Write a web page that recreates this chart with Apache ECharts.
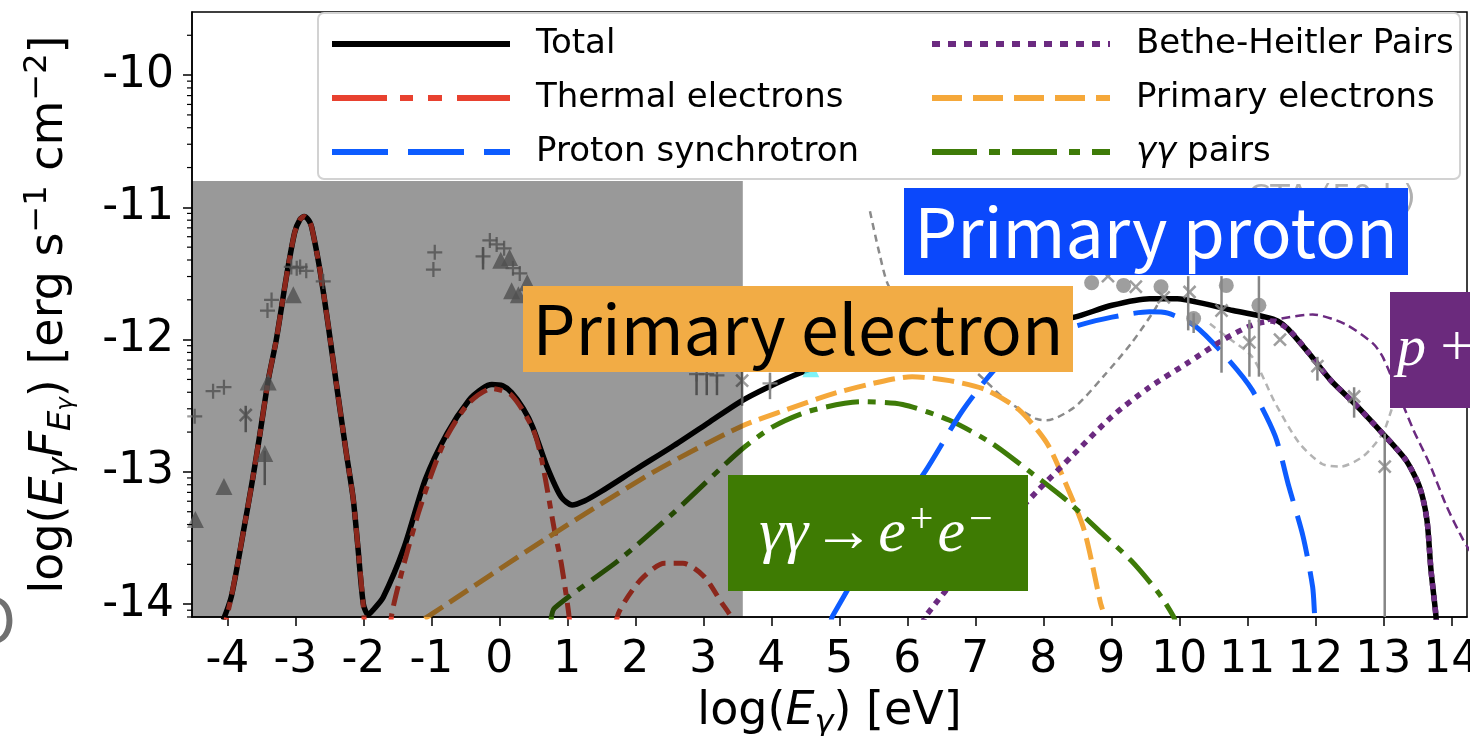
<!DOCTYPE html>
<html>
<head>
<meta charset="utf-8">
<script src="https://cdn.jsdelivr.net/npm/echarts@6/dist/echarts.min.js"></script>
<style>
  html, body { margin: 0; padding: 0; background: #fff; }
  #chart { width: 1470px; height: 736px; }
</style>
</head>
<body>
<div id="chart"></div>
<script>
// ---- axes ----
const xRange = [-4.52, 14.23];
const yRange = [-14.097, -9.523];
const xTicks = [-4, -3, -2, -1, 0, 1, 2, 3, 4, 5, 6, 7, 8, 9, 10, 11, 12, 13, 14];
const yTicks = [-14, -13, -12, -11, -10];
// log-style minor ticks between the decades of the y axis
const yMinorTicks = [];
for (let n = -15; n <= -10; n++) {
  for (let k = 2; k <= 9; k++) {
    const v = n + Math.log10(k);
    if (v >= yRange[0] && v <= yRange[1]) yMinorTicks.push(v);
  }
}

// ---- shaded band (low-energy region) ----
const shadedX = [-4.52, 3.58];
const shadedY = [-14.097, -10.80];

// ---- model components: [log E, log(E F_E)] ----
const totalCurve = [
  [-4.06, -14.12], [-3.94, -13.94], [-3.76, -13.44], [-3.63, -13.06], [-3.52, -12.71], [-3.40, -12.31],
  [-3.28, -12.00], [-3.13, -11.52], [-3.01, -11.19], [-2.93, -11.09], [-2.87, -11.07], [-2.80, -11.10],
  [-2.76, -11.15], [-2.64, -11.47], [-2.52, -11.88], [-2.39, -12.36], [-2.25, -12.86], [-2.15, -13.20],
  [-2.08, -13.57], [-2.00, -14.00], [-1.93, -14.08], [-1.85, -14.04], [-1.71, -13.95], [-1.40, -13.57],
  [-1.09, -13.06], [-0.77, -12.71], [-0.45, -12.46], [-0.25, -12.37], [-0.11, -12.34], [0.05, -12.35],
  [0.18, -12.40], [0.35, -12.52], [0.49, -12.66], [0.70, -12.96], [0.91, -13.19], [1.07, -13.25],
  [1.25, -13.22], [1.49, -13.15], [2.01, -12.98], [2.54, -12.81], [3.07, -12.63], [3.54, -12.47],
  [3.95, -12.36], [4.43, -12.25], [5.00, -12.15], [6.00, -12.03], [7.00, -11.95], [8.00, -11.87],
  [8.46, -11.83], [9.01, -11.74], [9.56, -11.69], [9.97, -11.69], [10.38, -11.73], [10.79, -11.78],
  [11.27, -11.83], [11.45, -11.86], [11.60, -11.92], [11.90, -12.10], [12.23, -12.31], [12.57, -12.48],
  [12.99, -12.71], [13.33, -12.91], [13.53, -13.11], [13.64, -13.36], [13.70, -13.74], [13.77, -14.07],
  [13.79, -14.20]
];
const thermalMain = [
  [-4.08, -14.25], [-3.94, -13.94], [-3.76, -13.44], [-3.63, -13.06], [-3.52, -12.71], [-3.40, -12.31],
  [-3.28, -12.00], [-3.13, -11.52], [-3.01, -11.19], [-2.93, -11.09], [-2.87, -11.07], [-2.80, -11.10],
  [-2.76, -11.15], [-2.64, -11.47], [-2.52, -11.88], [-2.39, -12.36], [-2.25, -12.86], [-2.15, -13.20],
  [-2.08, -13.57], [-2.00, -14.02], [-1.95, -14.40], [-1.80, -14.70], [-1.65, -14.40], [-1.58, -14.07],
  [-1.40, -13.69], [-1.19, -13.31], [-0.98, -12.99], [-0.77, -12.73], [-0.45, -12.48], [-0.11, -12.37],
  [0.18, -12.42], [0.49, -12.67], [0.62, -12.90], [0.81, -13.44], [0.91, -13.69], [1.02, -14.07], [1.06, -14.30]
];
const thermalHigh = [
  [1.68, -14.30], [1.75, -14.07], [2.07, -13.82], [2.43, -13.69], [2.70, -13.69], [3.01, -13.79],
  [3.27, -13.99], [3.41, -14.10], [3.48, -14.25]
];
const primaryElectrons = [
  [-1.10, -14.11], [-0.98, -14.07], [0.70, -13.50], [2.27, -13.00], [3.54, -12.66], [4.22, -12.53],
  [4.90, -12.41], [5.59, -12.32], [6.07, -12.28], [6.62, -12.31], [7.16, -12.38], [7.64, -12.53],
  [8.05, -12.78], [8.33, -13.09], [8.60, -13.44], [8.84, -13.99], [8.87, -14.04]
];
const ggPairs = [
  [0.76, -14.12], [0.81, -14.03], [1.75, -13.67], [2.54, -13.32], [3.54, -12.84], [4.02, -12.66],
  [4.56, -12.54], [5.32, -12.47], [5.93, -12.49], [6.62, -12.61], [7.23, -12.78], [7.78, -12.99],
  [8.33, -13.21], [8.81, -13.44], [9.29, -13.67], [9.70, -13.92], [9.91, -14.09], [9.95, -14.15]
];
const protonSync = [
  [4.87, -14.15], [4.90, -14.09], [5.59, -13.49], [6.27, -12.99], [6.82, -12.53], [7.37, -12.18],
  [7.90, -12.00], [8.46, -11.90], [9.01, -11.83], [9.56, -11.79], [9.83, -11.80], [10.24, -11.90],
  [10.72, -12.15], [11.07, -12.38], [11.41, -12.73], [11.61, -13.11], [11.82, -13.49], [11.96, -13.87],
  [11.99, -14.09], [12.00, -14.15]
];
const betheHeitler = [
  [6.22, -14.15], [6.27, -14.09], [6.82, -13.74], [7.37, -13.44], [7.92, -13.14], [8.46, -12.86],
  [9.01, -12.58], [9.56, -12.36], [10.11, -12.18], [10.65, -12.00], [11.07, -11.89], [11.35, -11.86],
  [11.60, -11.92], [11.90, -12.10], [12.23, -12.31], [12.57, -12.48], [12.99, -12.71], [13.33, -12.91],
  [13.53, -13.11], [13.64, -13.36], [13.70, -13.74], [13.77, -14.07], [13.79, -14.20]
];
const photoHadronic = [
  [11.30, -11.86], [11.61, -11.83], [11.96, -11.81], [12.43, -11.88], [12.85, -12.03], [13.00, -12.14],
  [13.44, -12.68], [13.68, -12.94], [13.93, -13.26], [14.17, -13.51], [14.30, -13.62]
];
const sensitivityA = [
  [5.45, -11.03], [5.59, -11.35], [5.73, -11.60], [6.20, -11.92], [6.60, -12.08], [7.02, -12.25],
  [7.46, -12.46], [7.90, -12.60], [8.05, -12.61], [8.46, -12.51], [8.88, -12.28], [9.29, -12.03],
  [9.63, -11.78], [9.77, -11.65]
];
const sensitivityB = [
  [10.45, -11.88], [10.70, -11.98], [11.07, -12.13], [11.41, -12.48], [11.76, -12.78], [12.10, -12.94],
  [12.37, -12.96], [12.71, -12.88], [12.99, -12.71], [13.12, -12.53], [13.30, -12.25]
];

// ---- observations ----
const obsPlus = [
  [-4.48, -12.58], [-4.21, -12.39], [-4.05, -12.36], [-3.41, -11.78], [-3.35, -11.70], [-3.06, -11.45],
  [-2.98, -11.46], [-2.93, -11.45], [-2.84, -11.48], [-2.59, -11.56], [-0.95, -11.34], [-0.97, -11.47],
  [-0.24, -11.37], [-0.14, -11.25], [-0.04, -11.28], [0.07, -11.31], [0.20, -11.46], [0.30, -11.50],
  [2.90, -12.26], [3.05, -12.26], [3.20, -12.27], [3.98, -12.33]
];
const obsTriangle = [
  [-4.47, -13.36], [-4.05, -13.11], [-3.45, -12.86], [-3.40, -12.32], [-3.03, -11.66], [0.02, -11.40],
  [0.15, -11.38], [0.18, -11.63], [0.28, -11.66], [0.41, -11.57]
];
const obsCross = [
  [-3.73, -12.57], [3.57, -12.31], [8.95, -11.52], [9.36, -11.60], [9.77, -11.68], [10.15, -11.64],
  [10.62, -11.78], [11.03, -12.02], [11.48, -12.00], [12.03, -12.20], [12.57, -12.43], [13.02, -12.96]
];
const obsCircle = [
  [8.71, -11.57], [9.18, -11.59], [9.73, -11.60], [10.21, -11.84], [10.69, -11.59], [11.17, -11.74]
];
const obsExtra = [[4.58, -12.22]];
// [log E, lower, upper]
const obsErrors = [
  [-3.73, -12.70, -12.50], [-3.45, -13.10, -12.84], [-0.24, -11.47, -11.30],
  [2.90, -12.42, -12.26], [3.05, -12.42, -12.26], [3.20, -12.42, -12.27], [3.57, -12.50, -12.20],
  [3.98, -12.45, -12.25], [10.13, -11.93, -11.52], [10.21, -11.95, -11.80], [10.62, -12.25, -11.52],
  [11.03, -12.28, -11.85], [11.17, -12.28, -11.52], [12.03, -12.31, -12.13], [12.57, -12.59, -12.36],
  [13.02, -14.12, -12.71]
];

// ---- legend entries ----
const legendLeft = ['Total', 'Thermal electrons', 'Proton synchrotron'];
const legendRight = ['Bethe-Heitler Pairs', 'Primary electrons', 'γγ pairs'];

const FONT = 'DejaVu Sans';
const MARK = '#868686';

function curve(name, data, color, width, dash, z) {
  return {
    type: 'line', name, data, symbol: 'none', smooth: 0.25,
    lineStyle: { color, width, type: dash, cap: 'butt', join: 'round' }, itemStyle: { color },
    z: z || 2, silent: true, clip: true
  };
}
function markers(name, data, symbol, size, rotate) {
  return {
    type: 'scatter', name, data, symbol, symbolSize: size, symbolRotate: rotate || 0,
    itemStyle: { color: MARK }, z: 4, silent: true, clip: true
  };
}
const plusPath = 'path://M8.5,0h3v8.5h8.5v3h-8.5v8.5h-3v-8.5h-8.5v-3h8.5z';

const axisRich = {
  i: { fontStyle: 'italic', fontSize: 46, fontFamily: FONT, lineHeight: 56 },
  sub: { fontStyle: 'italic', fontSize: 32, fontFamily: FONT, verticalAlign: 'bottom', lineHeight: 24 },
  ss: { fontStyle: 'italic', fontSize: 23, fontFamily: FONT, verticalAlign: 'bottom', lineHeight: 10 },
  sup: { fontSize: 32, fontFamily: FONT, verticalAlign: 'top', lineHeight: 30 }
};

const chart = echarts.init(document.getElementById('chart'), null, { renderer: 'canvas' });

const legendBase = {
  orient: 'vertical', top: 27, padding: 0, itemWidth: 178, itemHeight: 30, itemGap: 20,
  selectedMode: false, z: 25,
  textStyle: {
    fontSize: 34, fontFamily: FONT, color: '#000', lineHeight: 30, padding: [0, 0, 0, 21],
    rich: { i: { fontStyle: 'italic', fontSize: 34, fontFamily: FONT } }
  },
  formatter: n => n === 'γγ pairs' ? '{i|γγ} pairs' : n
};
const legendStyles = {
  'Total': { color: '#000', width: 6, type: 'solid' },
  'Thermal electrons': { color: '#e8412f', width: 6, type: [55, 13, 13, 15, 14, 15] },
  'Proton synchrotron': { color: '#0d5cff', width: 6, type: [56, 20] },
  'Bethe-Heitler Pairs': { color: '#6b2a80', width: 6, type: [8, 8] },
  'Primary electrons': { color: '#f5a83a', width: 6, type: [30, 11] },
  'γγ pairs': { color: '#3e7b08', width: 6, type: [45, 12, 11, 12] }
};
const legendItems = names => names.map(n => ({ name: n, lineStyle: legendStyles[n], itemStyle: { opacity: 0 } }));

const option = {
  backgroundColor: '#fff',
  animation: false,
  grid: {
    left: 192, right: 3, top: 12, bottom: 119, outerBoundsMode: 'none',
    show: true, borderColor: '#000', borderWidth: 1.5, backgroundColor: '#fff'
  },
  legend: [
    Object.assign({}, legendBase, { left: 329, data: legendItems(legendLeft) }),
    Object.assign({}, legendBase, { left: 929, data: legendItems(legendRight) })
  ],
  xAxis: [{
    type: 'value', min: xRange[0], max: xRange[1],
    axisLine: { show: true, onZero: false, lineStyle: { color: '#000', width: 1.5 } },
    axisTick: { show: true, length: 9, customValues: xTicks, lineStyle: { color: '#000', width: 1.5 } },
    axisLabel: { customValues: xTicks, fontSize: 44, fontFamily: FONT, color: '#000', margin: 22, formatter: v => String(Math.round(v)) },
    splitLine: { show: false },
    name: 'log({i|E}{sub|γ}) [eV]', nameLocation: 'middle', nameGap: 67, nameMoveOverlap: false,
    nameTextStyle: { fontSize: 46, fontFamily: FONT, color: '#000', lineHeight: 56, rich: axisRich }
  }],
  yAxis: [{
    type: 'value', min: yRange[0], max: yRange[1],
    axisLine: { show: true, onZero: false, lineStyle: { color: '#000', width: 1.5 } },
    axisTick: { show: true, length: 9, customValues: yTicks, lineStyle: { color: '#000', width: 1.5 } },
    axisLabel: { customValues: yTicks, fontSize: 44, fontFamily: FONT, color: '#000', margin: 18, formatter: v => String(Math.round(v)) },
    splitLine: { show: false },
    name: 'log({i|E}{sub|γ}{i|F}{sub|E}{ss|γ}) [erg s{sup|−1} cm{sup|−2}]', nameLocation: 'middle', nameGap: 114, nameMoveOverlap: false,
    nameTextStyle: { fontSize: 46, fontFamily: FONT, color: '#000', lineHeight: 56, rich: axisRich }
  }],
  series: [
    {
      // minor ticks on the left spine
      type: 'custom', name: 'minorTicks', data: yMinorTicks.map(v => [xRange[0], v]), z: 6, silent: true, clip: false,
      encode: { x: 0, y: 1 },
      renderItem: (params, api) => {
        const p = api.coord([api.value(0), api.value(1)]);
        return { type: 'line', shape: { x1: p[0] - 5, y1: p[1], x2: p[0], y2: p[1] }, style: { stroke: '#000', lineWidth: 1.2 } };
      }
    },
    curve('sensA', sensitivityA, '#8a8a8a', 2.5, [7, 5], 1),
    curve('sensB', sensitivityB, '#b3b3b3', 2.5, [7, 5], 1),
    curve('Total', totalCurve, '#000', 5.5, 'solid'),
    curve('Thermal electrons', thermalMain, '#e8412f', 5, [20, 8, 8, 8]),
    curve('Thermal electrons', thermalHigh, '#e8412f', 5, [14, 8]),
    curve('Primary electrons', primaryElectrons, '#f5a83a', 5, [22, 8]),
    curve('γγ pairs', ggPairs, '#3e7b08', 5, [33, 9, 8, 9]),
    curve('Proton synchrotron', protonSync, '#0d5cff', 5, [42, 15]),
    curve('pgamma', photoHadronic, '#6b2a80', 2.5, [9, 5]),
    curve('Bethe-Heitler Pairs', betheHeitler, '#6b2a80', 5.5, [6, 6]),
    {
      type: 'custom', name: 'errors', data: obsErrors, z: 3, silent: true, clip: true,
      encode: { x: 0, y: [1, 2] },
      renderItem: (params, api) => {
        const a = api.coord([api.value(0), api.value(1)]);
        const b = api.coord([api.value(0), api.value(2)]);
        return { type: 'line', shape: { x1: a[0], y1: a[1], x2: b[0], y2: b[1] }, style: { stroke: MARK, lineWidth: 2.5 } };
      }
    },
    markers('plus', obsPlus, plusPath, 15),
    markers('triangle', obsTriangle, 'triangle', 17),
    markers('cross', obsCross, plusPath, 17, 45),
    markers('circle', obsCircle, 'circle', 15),
    { type: 'scatter', name: 'extra', data: obsExtra, symbol: 'triangle', symbolSize: 17, itemStyle: { color: '#5ff0f5' }, z: 4, silent: true },
    {
      type: 'custom', name: 'band', data: [[shadedX[0], shadedX[1], shadedY[0], shadedY[1]]], z: 10, silent: true,
      encode: { x: [0, 1], y: [2, 3] },
      renderItem: (params, api) => {
        const p0 = api.coord([api.value(0), api.value(3)]);
        const p1 = api.coord([api.value(1), api.value(2)]);
        return { type: 'rect', shape: { x: p0[0], y: p0[1], width: p1[0] - p0[0], height: p1[1] - p0[1] }, style: { fill: 'rgba(0,0,0,0.4)' } };
      }
    }
  ],
  graphic: [
    { type: 'rect', z: 20, shape: { x: 318, y: 13, width: 1142, height: 166, r: 6 }, style: { fill: '#fff', stroke: '#d2d2d2', lineWidth: 2 } },
    { type: 'text', z: 30, x: 1248, y: 199, style: { text: 'CTA (50 h)', fontSize: 32, fontFamily: FONT, fill: '#b0b0b0', align: 'left', verticalAlign: 'middle' } },
    { type: 'text', z: 30, x: 16, y: 619, style: { text: 'O', fontSize: 62, fontFamily: 'Noto Sans CJK JP', fill: '#707070', align: 'right', verticalAlign: 'middle' } },
    { type: 'rect', z: 40, shape: { x: 904, y: 188, width: 504, height: 87 }, style: { fill: '#0b48fb' } },
    { type: 'text', z: 41, x: 1156, y: 232, style: { text: 'Primary proton', fontSize: 68, fontFamily: 'Noto Sans CJK JP', fill: '#fff', align: 'center', verticalAlign: 'middle' } },
    { type: 'rect', z: 40, shape: { x: 523, y: 286, width: 550, height: 86 }, style: { fill: '#f2ac45' } },
    { type: 'text', z: 41, x: 798, y: 329, style: { text: 'Primary electron', fontSize: 68, fontFamily: 'Noto Sans CJK JP', fill: '#000', align: 'center', verticalAlign: 'middle' } },
    { type: 'rect', z: 40, shape: { x: 728, y: 475, width: 300, height: 116 }, style: { fill: '#3e7b03' } },
    { type: 'text', z: 41, x: 874, y: 535, style: {
      text: '{i|γγ}→{i|e}{sup|+}{i|e}{sup|−}', fontSize: 62, fontFamily: 'Liberation Serif', fill: '#fff', align: 'center', verticalAlign: 'middle',
      rich: {
        i: { fontSize: 62, fontStyle: 'italic', fontFamily: 'Liberation Serif', fill: '#fff', lineHeight: 70, padding: [0, 4, 0, 4] },
        sup: { fontSize: 42, fontFamily: 'Liberation Serif', fill: '#fff', verticalAlign: 'top', lineHeight: 34 }
      } } },
    { type: 'rect', z: 40, shape: { x: 1390, y: 292, width: 90, height: 116 }, style: { fill: '#6b2a7d' } },
    { type: 'text', z: 41, x: 1397, y: 350, style: { text: '{i|p} + γ', fontSize: 58, fontFamily: 'Liberation Serif', fill: '#fff', align: 'left', verticalAlign: 'middle',
      rich: { i: { fontSize: 58, fontStyle: 'italic', fontFamily: 'Liberation Serif', fill: '#fff' } } } }
  ]
};

chart.setOption(option);
</script>
</body>
</html>
